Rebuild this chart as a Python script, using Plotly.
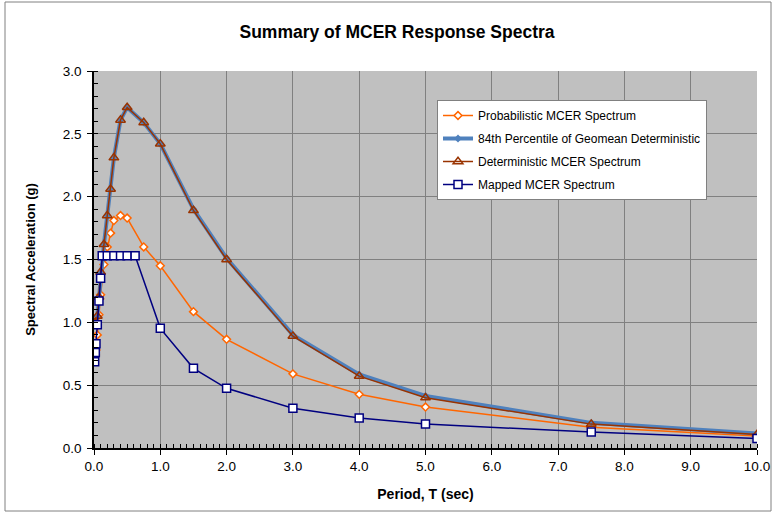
import plotly.graph_objects as go

# Periods (sec) shared by the site-specific spectra
periods = [0.01, 0.02, 0.03, 0.05, 0.075, 0.1, 0.15, 0.2, 0.25, 0.3, 0.4, 0.5,
           0.75, 1.0, 1.5, 2.0, 3.0, 4.0, 5.0, 7.5, 10.0]

# Spectral accelerations (g)
probabilistic = [0.72, 0.74, 0.78, 0.90, 1.06, 1.22, 1.46, 1.60, 1.71, 1.81, 1.85, 1.83,
                 1.60, 1.45, 1.085, 0.865, 0.59, 0.427, 0.326, 0.165, 0.095]
geomean_84th = [0.98, 0.99, 1.00, 1.05, 1.20, 1.40, 1.62, 1.85, 2.06, 2.31, 2.61, 2.71,
                2.59, 2.42, 1.90, 1.51, 0.90, 0.585, 0.415, 0.200, 0.115]
deterministic = [0.98, 0.99, 1.00, 1.05, 1.20, 1.40, 1.62, 1.85, 2.06, 2.31, 2.61, 2.71,
                 2.59, 2.42, 1.89, 1.50, 0.89, 0.572, 0.400, 0.190, 0.108]

# Mapped MCER spectrum (its own period set, incl. T0 and Ts corners)
mapped_periods = [0.01, 0.02, 0.03, 0.05, 0.075, 0.1, 0.124, 0.2, 0.3, 0.4, 0.5, 0.62,
                  1.0, 1.5, 2.0, 3.0, 4.0, 5.0, 7.5, 10.0]
mapped = [0.686, 0.76, 0.83, 0.98, 1.17, 1.35, 1.53, 1.53, 1.53, 1.53, 1.53, 1.53,
          0.952, 0.634, 0.475, 0.317, 0.238, 0.190, 0.127, 0.076]

x_ticks = [0, 1, 2, 3, 4, 5, 6, 7, 8, 9, 10]
y_ticks = [0.0, 0.5, 1.0, 1.5, 2.0, 2.5, 3.0]

FONT = "Liberation Sans, Arial, sans-serif"

fig = go.Figure()

fig.add_trace(go.Scatter(
    x=periods, y=probabilistic, mode="lines+markers",
    name="Probabilistic MCER Spectrum", legendgroup="a",
    line=dict(color="#FF6600", width=1.5),
    marker=dict(symbol="diamond", size=6, color="white",
                line=dict(color="#FF6600", width=1.5)),
))
fig.add_trace(go.Scatter(
    x=periods, y=geomean_84th, mode="lines+markers",
    name="84th Percentile of Geomean Deterministic", legendgroup="b",
    line=dict(color="#4F81BD", width=4),
    marker=dict(symbol="diamond", size=6, color="#4F81BD"),
))
fig.add_trace(go.Scatter(
    x=periods, y=deterministic, mode="lines+markers",
    name="Deterministic MCER Spectrum", legendgroup="c",
    line=dict(color="#993300", width=1.5),
    marker=dict(symbol="triangle-up-open", size=8.5, color="#993300",
                line=dict(width=1.5)),
))
fig.add_trace(go.Scatter(
    x=mapped_periods, y=mapped, mode="lines+markers",
    name="Mapped MCER Spectrum", legendgroup="d",
    line=dict(color="#000080", width=1.5),
    marker=dict(symbol="square", size=8, color="white",
                line=dict(color="#000080", width=1.5)),
))

# plot area in pixels: x 94..757, y 71..448
L, R, T, B = 94, 757, 71, 448
W, H = R - L, B - T


def px_x(p):
    return (p - L) / W


def px_y(p):
    return (B - p) / H


fig.update_layout(
    width=776, height=516,
    margin=dict(l=L, r=776 - R, t=T, b=516 - B, autoexpand=False),
    paper_bgcolor="white",
    plot_bgcolor="#C0C0C0",
    font=dict(family=FONT, size=13, color="black"),
    title=dict(text="<b>Summary of MCER Response Spectra</b>",
               x=397 / 776, xref="container", xanchor="center",
               y=1 - 32 / 516, yref="container", yanchor="middle",
               font=dict(size=17.5, family=FONT, color="black")),
    showlegend=True,
    legend=dict(
        x=px_x(437), y=px_y(100), xanchor="left", yanchor="top",
        bgcolor="white", bordercolor="#808080", borderwidth=1,
        font=dict(size=12, family=FONT),
        traceorder="grouped", tracegroupgap=4,
        itemwidth=30,
    ),
    shapes=[dict(type="rect", xref="paper", yref="paper",
                 x0=px_x(5), x1=px_x(771), y0=px_y(511), y1=px_y(2),
                 line=dict(color="#808080", width=1), fillcolor="rgba(0,0,0,0)",
                 layer="below")],
)

fig.update_xaxes(
    range=[0, 10], tickvals=x_ticks, tickformat=".1f", automargin=False,
    tickfont=dict(size=13.5),
    showgrid=True, gridcolor="#808080", gridwidth=1,
    showline=True, linecolor="black", linewidth=1.5,
    ticks="outside", ticklen=5, tickcolor="black",
    minor=dict(dtick=0.1, ticks="inside", ticklen=4, tickcolor="black", showgrid=False),
    zeroline=False,
    title=dict(text="<b>Period, T (sec)</b>", font=dict(size=14, family=FONT), standoff=16),
)
fig.update_yaxes(
    range=[0, 3], tickvals=y_ticks, tickformat=".1f", automargin=False,
    tickfont=dict(size=13.5), ticklabelstandoff=3,
    showgrid=True, gridcolor="#808080", gridwidth=1,
    showline=True, linecolor="black", linewidth=1.5,
    ticks="outside", ticklen=5, tickcolor="black",
    minor=dict(dtick=0.1, ticks="inside", ticklen=4, tickcolor="black", showgrid=False),
    zeroline=False,
    title=dict(text="<b>Spectral Acceleration (g)</b>", font=dict(size=13, family=FONT), standoff=24),
)

fig.write_html("out.html")
